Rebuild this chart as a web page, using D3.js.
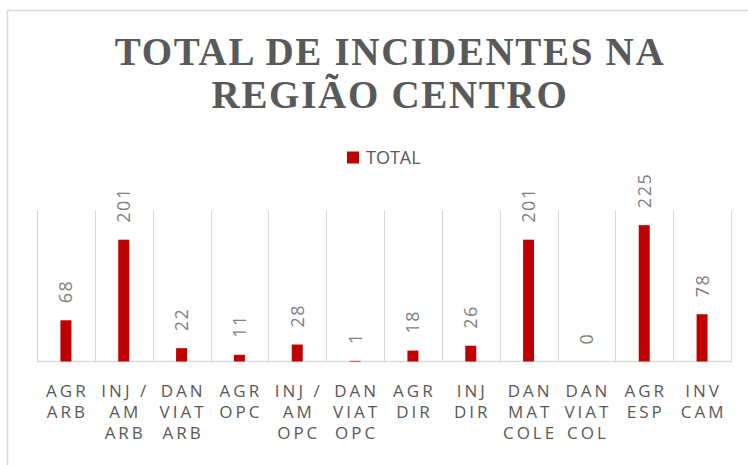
<!DOCTYPE html>
<html lang="pt">
<head>
<meta charset="utf-8">
<style>
    body { margin: 0; background: #fff; }
    .grid { stroke: #d9d9d9; stroke-width: 1; }
    .bar { fill: #c00000; }
    .title { font-family: "Liberation Serif", "Times New Roman", serif; font-weight: bold; fill: #595959; }
    .lbl { font-family: "Open Sans", sans-serif; fill: #7f7f7f; }
    .cat { font-family: "Open Sans", sans-serif; fill: #595959; }
</style>
<script src="https://cdn.jsdelivr.net/npm/d3@7"></script>
</head>
<body>
<svg id="chart" width="748" height="465"></svg>
<script>
    var categories = ["AGR ARB", "INJ / AM ARB", "DAN VIAT ARB", "AGR OPC", "INJ / AM OPC", "DAN VIAT OPC",
                      "AGR DIR", "INJ DIR", "DAN MAT COLE", "DAN VIAT COL", "AGR ESP", "INV CAM"];
    var totals = [68, 201, 22, 11, 28, 1, 18, 26, 201, 0, 225, 78];
    var titleLines = ["TOTAL DE INCIDENTES NA", "REGIÃO CENTRO"];
    var seriesName = "TOTAL";

    var svg = d3.select("#chart");
    var plotL = 37, plotR = 731, plotT = 210, plotB = 361.5;

    // outer chart frame (cut off at right/bottom like the source)
    svg.append("rect")
       .attr("x", 7.5).attr("y", 10.5)
       .attr("width", 800).attr("height", 500)
       .attr("fill", "none").attr("stroke", "#d9d9d9").attr("stroke-width", 1.5);

    // title
    svg.selectAll(".title")
       .data(titleLines)
       .enter().append("text")
       .attr("class", "title")
       .attr("x", 390)
       .attr("y", function(d, i) { return 65 + i * 43; })
       .attr("text-anchor", "middle")
       .style("font-size", "39px")
       .style("letter-spacing", "1.7px")
       .text(function(d) { return d; });

    // legend
    var legend = svg.append("g");
    legend.append("rect")
          .attr("x", 347).attr("y", 151.5).attr("width", 12).attr("height", 12)
          .attr("class", "bar");
    legend.append("text")
          .attr("x", 366).attr("y", 164)
          .attr("class", "cat")
          .style("font-size", "18px")
          .text(seriesName);

    var x = d3.scaleBand().domain(categories).range([plotL, plotR]).padding(0);
    var y = d3.scaleLinear().domain([0, 250]).range([plotB, plotT]);

    var g = svg.append("g");

    // vertical category gridlines
    var edges = categories.map(function(c) { return x(c); }).concat([plotR]);
    g.selectAll(".vgrid")
     .data(edges)
     .enter().append("line")
     .attr("class", "grid")
     .attr("x1", function(d) { return Math.round(d) + 0.5; })
     .attr("x2", function(d) { return Math.round(d) + 0.5; })
     .attr("y1", plotT).attr("y2", plotB);

    // baseline
    g.append("line")
     .attr("class", "grid")
     .attr("x1", plotL).attr("x2", plotR + 1)
     .attr("y1", plotB).attr("y2", plotB)
     .style("stroke-width", 1.5);

    var barW = x.bandwidth() * 0.19;

    g.selectAll(".bar")
     .data(totals)
     .enter().append("rect")
     .attr("class", "bar")
     .attr("x", function(d, i) { return x(categories[i]) + (x.bandwidth() - barW) / 2; })
     .attr("width", barW)
     .attr("y", function(d) { return y(d); })
     .attr("height", function(d) { return plotB - y(d); });

    // data labels, rotated
    g.selectAll(".lbl")
     .data(totals)
     .enter().append("text")
     .attr("class", "lbl")
     .attr("transform", function(d, i) {
         var cx = x(categories[i]) + x.bandwidth() / 2;
         return "translate(" + cx + "," + (y(d) - 17) + ") rotate(-90)";
     })
     .attr("dy", "0.36em")
     .style("font-size", "18px")
     .style("letter-spacing", "1.5px")
     .text(function(d) { return d; });

    // category labels wrapped inside the band
    var maxW = x.bandwidth() - 4;
    categories.forEach(function(c, i) {
        var cx = x(c) + x.bandwidth() / 2;
        var t = g.append("text")
                 .attr("class", "cat")
                 .attr("text-anchor", "middle")
                 .style("font-size", "17px")
                 .style("letter-spacing", "3px");
        var words = c.split(" "), lines = [], cur = "";
        var probe = t.append("tspan");
        words.forEach(function(w) {
            var test = cur ? cur + " " + w : w;
            probe.text(test);
            if (cur && probe.node().getComputedTextLength() > maxW) {
                lines.push(cur);
                cur = w;
            } else {
                cur = test;
            }
        });
        lines.push(cur);
        probe.remove();
        lines.forEach(function(l, k) {
            t.append("tspan")
             .attr("x", cx + 1.5)
             .attr("y", 397 + k * 21)
             .text(l);
        });
    });
</script>
</body>
</html>
